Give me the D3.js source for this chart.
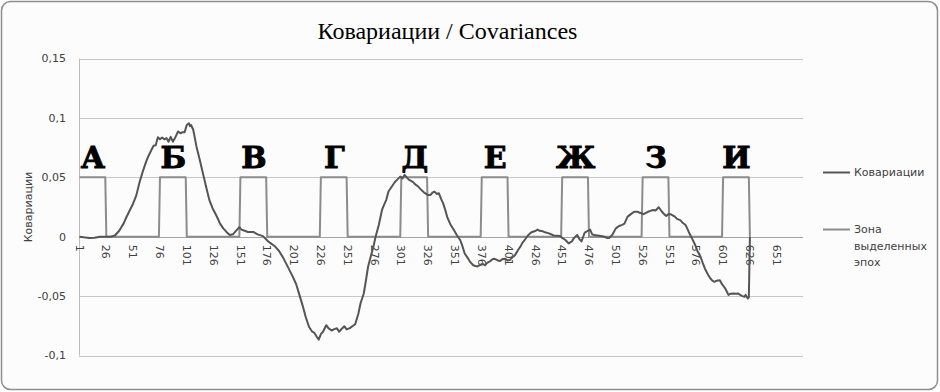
<!DOCTYPE html>
<html><head><meta charset="utf-8">
<script src="https://cdn.jsdelivr.net/npm/d3@7"></script>
<style>
html,body{margin:0;padding:0;background:#fff;}
svg{display:block;}
</style></head>
<body>
<svg id="chart" width="940" height="392"></svg>
<script>
// ---- data ----
const title = "Ковариации / Covariances";
const yAxisTitle = "Ковариации";
const categoryCount = 675;
const xTickValues = [1,26,51,76,101,126,151,176,201,226,251,276,301,326,351,376,401,426,451,476,501,526,551,576,601,626,651];
const yTickValues = [-0.1,-0.05,0,0.05,0.1,0.15];
const seriesNames = ["Ковариации", "Зона выделенных эпох"];

const covCat = [1,5,10,15,20,25,30,34,38,42,45,48,51,54,57,60,63,65,68,70,72,74,76,78,80,82,84,86,88,90,92,93,95,97,99,101,103,104,105,107,110,113,116,119,122,125,129,132,135,138,141,144,146,150,152,155,158,163,167,172,177,180,183,187,191,195,200,203,206,209,212,215,218,220,222,224,226,228,231,233,236,238,241,243,246,248,250,253,256,258,261,263,266,268,270,273,275,277,280,283,285,287,289,292,295,297,300,302,304,306,308,310,312,314,317,320,323,326,328,330,332,334,336,338,340,342,344,347,350,353,356,358,360,363,365,368,370,372,374,377,379,381,384,386,388,391,393,395,398,400,402,405,407,410,412,414,416,419,421,423,426,428,430,433,435,438,440,443,446,449,451,454,457,460,462,465,467,469,471,472,475,477,479,481,484,487,490,493,495,498,501,504,507,509,512,515,518,521,524,527,529,531,534,536,538,541,544,546,548,550,552,554,556,558,561,563,566,569,572,575,577,580,582,584,587,589,591,593,595,598,600,603,606,608,611,613,615,617,619,621,622,624,625,626];
const covVal = [0.000,-0.0005,-0.001,-0.0008,0.0,0.0,0.0,0.001,0.005,0.011,0.017,0.0225,0.028,0.035,0.046,0.055,0.063,0.0675,0.073,0.0765,0.077,0.0838,0.082,0.0835,0.082,0.083,0.080,0.084,0.080,0.083,0.087,0.0886,0.087,0.088,0.088,0.094,0.0955,0.093,0.094,0.090,0.076,0.065,0.0535,0.042,0.031,0.024,0.017,0.011,0.007,0.004,0.0015,0.002,0.004,0.008,0.006,0.005,0.004,0.004,0.002,0.0005,-0.004,-0.006,-0.008,-0.012,-0.018,-0.025,-0.034,-0.040,-0.049,-0.058,-0.068,-0.076,-0.080,-0.081,-0.084,-0.0866,-0.082,-0.080,-0.0745,-0.077,-0.079,-0.078,-0.077,-0.080,-0.077,-0.0755,-0.078,-0.077,-0.075,-0.0737,-0.0646,-0.056,-0.0478,-0.037,-0.0253,-0.015,-0.0084,0.0,0.0099,0.0225,0.027,0.031,0.038,0.042,0.046,0.0478,0.0506,0.049,0.052,0.050,0.048,0.047,0.046,0.044,0.042,0.039,0.0366,0.035,0.035,0.037,0.038,0.036,0.0366,0.032,0.028,0.0225,0.016,0.010,0.0056,0.001,-0.003,-0.008,-0.014,-0.018,-0.021,-0.024,-0.0247,-0.025,-0.024,-0.023,-0.024,-0.022,-0.0205,-0.019,-0.0186,-0.020,-0.0205,-0.019,-0.0186,-0.020,-0.0197,-0.017,-0.0155,-0.011,-0.0084,-0.005,-0.0028,0.001,0.0028,0.004,0.0048,0.006,0.005,0.0045,0.0037,0.003,0.0023,0.001,0.0009,0.0006,-0.001,-0.0028,-0.0056,-0.004,-0.001,0.0014,-0.002,-0.004,0.001,0.0034,0.005,0.006,0.002,0.0014,0.001,0.0006,0.0,-0.0012,-0.001,0.002,0.007,0.009,0.010,0.011,0.0169,0.019,0.021,0.021,0.020,0.019,0.020,0.021,0.022,0.0225,0.022,0.0248,0.021,0.019,0.0175,0.019,0.019,0.018,0.0169,0.015,0.014,0.012,0.0099,0.004,-0.0014,-0.007,-0.012,-0.0169,-0.022,-0.0267,-0.032,-0.035,-0.037,-0.038,-0.037,-0.0366,-0.040,-0.0436,-0.049,-0.048,-0.0478,-0.048,-0.0478,-0.049,-0.050,-0.0506,-0.049,-0.052,-0.051,0.0];

const zoneLabels = ["А","Б","В","Г","Д","Е","Ж","З","И"];
const zoneStart = [1,76,151,226,301,376,451,526,601];
const zoneEnd   = [25,100,175,250,325,400,475,550,625];
const zoneLevel = 0.05;

// ---- layout ----
const svg = d3.select("#chart");
const W = 940, H = 392;
const plot = {left:79, right:803, top:58.5, bottom:355.5};

svg.append("rect").attr("x",1.5).attr("y",1.5).attr("width",W-4).attr("height",H-4)
  .attr("rx",9).attr("fill","#fcfcfc").attr("stroke","#8e8e8e").attr("stroke-width",1.5);

const x = d3.scaleLinear().domain([0.5, categoryCount+0.5]).range([plot.left, plot.right]);
const y = d3.scaleLinear().domain([-0.1, 0.15]).range([plot.bottom, plot.top]);

// gridlines
svg.append("g").selectAll("line").data(yTickValues.filter(v=>v!==0)).join("line")
  .attr("x1",plot.left).attr("x2",plot.right)
  .attr("y1",d=>Math.round(y(d))+0.5).attr("y2",d=>Math.round(y(d))+0.5)
  .attr("stroke","#c6c6c6").attr("stroke-width",1);

// y axis line
svg.append("line").attr("x1",plot.left+0.5).attr("x2",plot.left+0.5)
  .attr("y1",plot.top).attr("y2",plot.bottom).attr("stroke","#bdbdbd").attr("stroke-width",1);

// y axis labels
const fmt = v => (v===0 ? "0" : String(+v.toFixed(2)).replace(".", ","));
svg.append("g").selectAll("text").data(yTickValues).join("text")
  .attr("x",66).attr("y",d=>y(d)).attr("dy","0.35em")
  .attr("text-anchor","end")
  .attr("font-family","'DejaVu Sans', Verdana, sans-serif").attr("font-size",11)
  .attr("fill","#404040").text(fmt);

// y axis title
svg.append("text").attr("transform",`translate(32,${(plot.top+plot.bottom)/2}) rotate(-90)`)
  .attr("text-anchor","middle")
  .attr("font-family","'DejaVu Sans', Verdana, sans-serif").attr("font-size",11)
  .attr("fill","#404040").text(yAxisTitle);

// x axis line at 0
svg.append("line").attr("x1",plot.left).attr("x2",plot.right)
  .attr("y1",Math.round(y(0))+0.5).attr("y2",Math.round(y(0))+0.5)
  .attr("stroke","#a6a6a6").attr("stroke-width",1.2);

// x tick labels
svg.append("g").selectAll("text").data(xTickValues).join("text")
  .attr("transform",d=>`translate(${x(d)},${y(0)+8}) rotate(90)`)
  .attr("dy","0.35em").attr("text-anchor","start")
  .attr("font-family","'DejaVu Sans', Verdana, sans-serif").attr("font-size",11)
  .attr("fill","#404040").text(d=>d);

// zone series
const zonePts = [];
zoneStart.forEach((s,i)=>{
  if (s-1 >= 1) zonePts.push([s-1,0]);
  zonePts.push([s,zoneLevel]);
  zonePts.push([zoneEnd[i],zoneLevel]);
  zonePts.push([zoneEnd[i]+1,0]);
});
const line = d3.line().x(d=>x(d[0])).y(d=>y(d[1]));
svg.append("path").datum(zonePts).attr("d",line)
  .attr("fill","none").attr("stroke","#8c8c8c").attr("stroke-width",2).attr("stroke-linejoin","round");

// covariance series
const covPts = covCat.map((c,i)=>[c,covVal[i]]);
svg.append("path").datum(covPts).attr("d",line)
  .attr("fill","none").attr("stroke","#555555").attr("stroke-width",2).attr("stroke-linejoin","round");

// zone letters
svg.append("g").selectAll("text").data(zoneLabels).join("text")
  .attr("x",(d,i)=>(x(zoneStart[i])+x(zoneEnd[i]+1))/2)
  .attr("y",168)
  .attr("text-anchor","middle")
  .attr("font-family","'DejaVu Serif', serif").attr("font-weight","bold").attr("font-size",30)
  .attr("fill","#000").attr("stroke","#000").attr("stroke-width",0.9).text(d=>d);

// title
svg.append("text").attr("x",447.5).attr("y",38.5).attr("text-anchor","middle")
  .attr("font-family","'Liberation Serif','Times New Roman',serif").attr("font-size",24)
  .attr("fill","#000").text(title);

// legend
const lg = svg.append("g");
lg.append("line").attr("x1",823).attr("x2",850).attr("y1",172.5).attr("y2",172.5)
  .attr("stroke","#555555").attr("stroke-width",2);
lg.append("text").attr("x",854).attr("y",172.5).attr("dy","0.35em")
  .attr("font-family","'DejaVu Sans', Verdana, sans-serif").attr("font-size",11)
  .attr("fill","#404040").text(seriesNames[0]);
lg.append("line").attr("x1",823).attr("x2",850).attr("y1",229.5).attr("y2",229.5)
  .attr("stroke","#8c8c8c").attr("stroke-width",2);
const zoneWords = ["Зона","выделенных","эпох"];
lg.append("g").selectAll("text").data(zoneWords).join("text")
  .attr("x",854).attr("y",(d,i)=>229.5+i*16.5).attr("dy","0.35em")
  .attr("font-family","'DejaVu Sans', Verdana, sans-serif").attr("font-size",11)
  .attr("fill","#404040").text(d=>d);
</script>
</body></html>
